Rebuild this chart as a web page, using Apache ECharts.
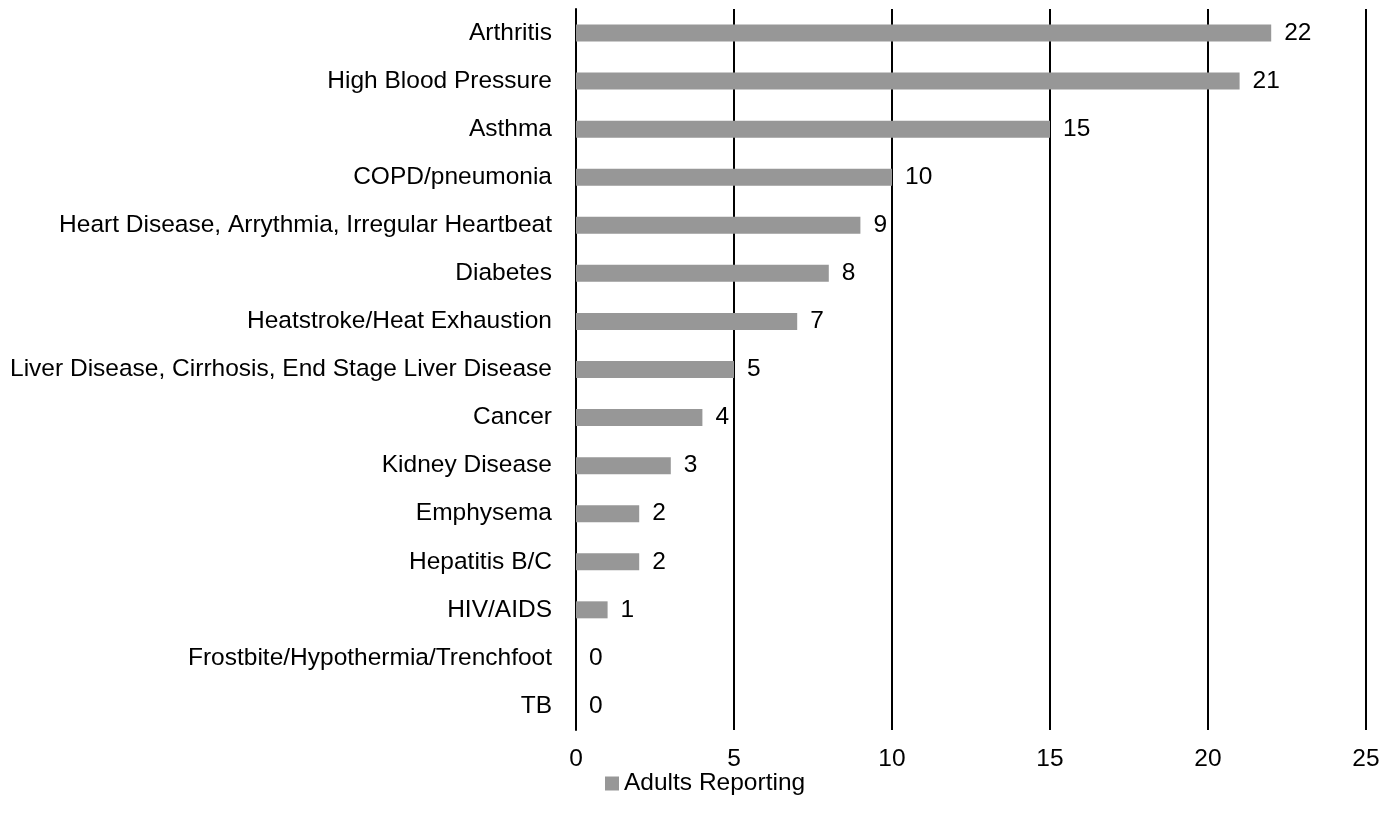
<!DOCTYPE html>
<html>
<head>
<meta charset="utf-8">
<script src="https://cdn.jsdelivr.net/npm/echarts@6/dist/echarts.min.js"></script>
<style>
  html, body { margin: 0; padding: 0; background: #fff; }
  #chart { width: 1386px; height: 825px; }
</style>
</head>
<body>
<div id="chart"></div>
<script>
// categories top to bottom as in the picture
var conditions = [
  "Arthritis",
  "High Blood Pressure",
  "Asthma",
  "COPD/pneumonia",
  "Heart Disease, Arrythmia, Irregular Heartbeat",
  "Diabetes",
  "Heatstroke/Heat Exhaustion",
  "Liver Disease, Cirrhosis, End Stage Liver Disease",
  "Cancer",
  "Kidney Disease",
  "Emphysema",
  "Hepatitis B/C",
  "HIV/AIDS",
  "Frostbite/Hypothermia/Trenchfoot",
  "TB"
];
var adultsReporting = [22, 21, 15, 10, 9, 8, 7, 5, 4, 3, 2, 2, 1, 0, 0];
var seriesName = "Adults Reporting";

var fontFam = "Liberation Sans, Arial, sans-serif";
var fontSz = 24.5;

var myChart = echarts.init(document.getElementById("chart"));
var option = {
  backgroundColor: "#fff",
  animation: false,
  legend: {
    data: [seriesName],
    icon: "rect",
    bottom: 24,
    left: 600,
    itemWidth: 14,
    itemHeight: 14,
    itemGap: 4,
    textStyle: { fontFamily: fontFam, fontSize: fontSz, color: "#000" }
  },
  grid: {
    left: 576,
    right: 20,
    top: 9,
    height: 721
  },
  xAxis: {
    type: "value",
    min: 0,
    max: 25,
    interval: 5,
    axisLine: { show: false },
    axisTick: { show: false },
    splitLine: { show: true, lineStyle: { color: "#000", width: 2 } },
    axisLabel: { fontFamily: fontFam, fontSize: fontSz, color: "#000", margin: 17 }
  },
  yAxis: {
    type: "category",
    inverse: true,
    data: conditions,
    axisLine: { show: true, lineStyle: { color: "#000", width: 2 } },
    axisTick: { show: false },
    axisLabel: { fontFamily: fontFam, fontSize: fontSz, color: "#000", margin: 24 }
  },
  series: [{
    name: seriesName,
    type: "bar",
    data: adultsReporting,
    barWidth: 17,
    itemStyle: { color: "#979797" },
    label: {
      show: true,
      position: "right",
      distance: 13,
      fontFamily: fontFam,
      fontSize: fontSz,
      color: "#000"
    }
  }]
};
myChart.setOption(option);
</script>
</body>
</html>
